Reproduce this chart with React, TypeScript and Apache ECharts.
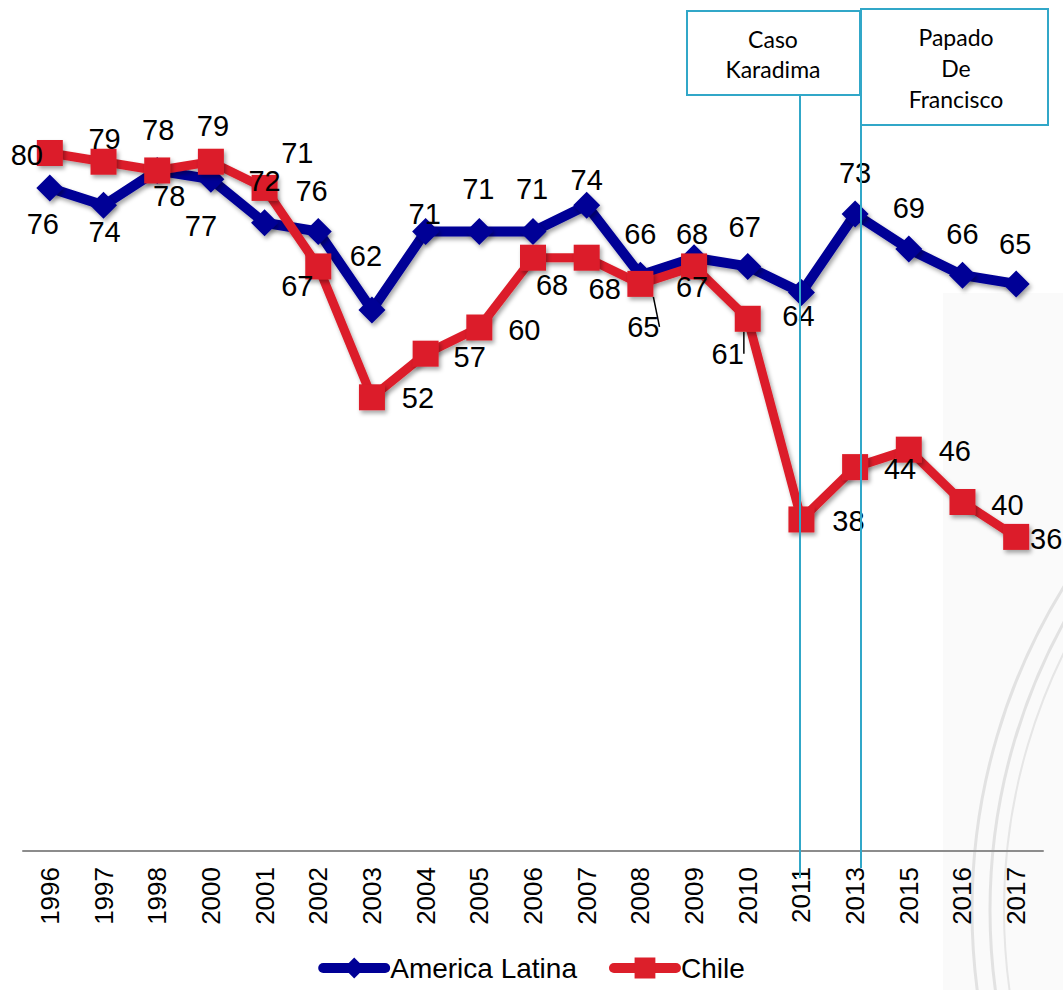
import React, { useEffect, useRef } from "react";
import * as echarts from "echarts";

const years = ["1996","1997","1998","2000","2001","2002","2003","2004","2005","2006","2007","2008","2009","2010","2011","2013","2015","2016","2017"];
const americaLatina = [76, 74, 78, 77, 72, 71, 62, 71, 71, 71, 74, 66, 68, 67, 64, 73, 69, 66, 65];
const chile = [80, 79, 78, 79, 76, 67, 52, 57, 60, 68, 68, 65, 67, 61, 38, 44, 46, 40, 36];

// label offsets (styling only)
const alOffsets: number[][] = [
  [-7, 36], [1, 27], [12, 26], [-10, 47], [0, -42], [-21, -79], [-6, -54], [-1, -18], [-1, -43], [-1, -43],
  [0, -25], [0, -41], [-2, -24], [-3, -39], [-3, 23], [0, -41], [0, -41], [0, -41], [-1, -40],
];
const chOffsets: number[][] = [
  [-23, 2], [1, -23], [1, -40], [2, -36], [47, 3], [-21, 20], [46, 1], [44, 3], [45, 2], [19, 27],
  [18, 31], [3, 43], [-2, 21], [-20, 35], [47, 2], [45, 2], [46, 1], [45, 3], [30, 2],
];

const BLUE = "#000096";
const RED = "#DC1F2A";
const CYAN = "#31A7C8";
const FONT = "'Liberation Sans', Arial, sans-serif";
const BOXFONT = "Lato, 'Noto Sans', sans-serif";

export default function App() {
  const ref = useRef<HTMLDivElement>(null);
  useEffect(() => {
    if (!ref.current) return;
    const chart = echarts.init(ref.current, null, { renderer: "svg" });
    const shadow = {
      shadowBlur: 4,
      shadowColor: "rgba(0,0,0,0.35)",
      shadowOffsetX: 2,
      shadowOffsetY: 3,
    };
    const labelStyle = { show: true, position: "inside", fontSize: 29, color: "#000", fontFamily: FONT };
    chart.setOption({
      animation: false,
      backgroundColor: "#ffffff",
      grid: { left: 23, right: 20, top: 153, bottom: 139 },
      xAxis: {
        type: "category",
        data: years,
        boundaryGap: true,
        axisLine: { lineStyle: { color: "#8c8c8c", width: 2 } },
        axisTick: { show: false },
        axisLabel: { rotate: 90, fontSize: 26, color: "#000", margin: 16, fontFamily: FONT, interval: 0 },
        splitLine: { show: false },
      },
      yAxis: { type: "value", min: 0, max: 80, show: false, splitLine: { show: false } },
      legend: {
        data: ["America Latina", "Chile"],
        top: 954,
        left: "center",
        itemWidth: 62,
        itemHeight: 26,
        itemGap: 32,
        padding: 0,
        lineStyle: { width: 10, cap: "round" },
        textStyle: { fontSize: 28, lineHeight: 28, color: "#000", fontFamily: FONT },
      },
      series: [
        {
          name: "America Latina",
          type: "line",
          data: americaLatina,
          symbol: "diamond",
          symbolSize: 27,
          lineStyle: { color: BLUE, width: 10, cap: "round", ...shadow },
          itemStyle: { color: BLUE, ...shadow },
          label: { show: false },
          z: 2,
        },
        {
          name: "Chile",
          type: "line",
          data: chile.map((v, i) => {
            const item: any = { value: v, label: { offset: chOffsets[i] } };
            if (i === 11 || i === 13) {
              item.labelLine = { show: true, lineStyle: { color: "#000", width: 1.5 } };
            }
            return item;
          }),
          symbol: "rect",
          symbolSize: 26,
          lineStyle: { color: RED, width: 9, cap: "round", ...shadow },
          itemStyle: { color: RED, ...shadow },
          label: labelStyle,
          z: 3,
        },
        {
          name: "America Latina labels",
          type: "line",
          data: americaLatina.map((v, i) => ({ value: v, label: { offset: alOffsets[i] } })),
          symbol: "circle",
          symbolSize: 2,
          lineStyle: { width: 0, opacity: 0 },
          itemStyle: { color: "rgba(0,0,0,0)", borderWidth: 0 },
          label: labelStyle,
          silent: true,
          z: 4,
        },
      ],
      graphic: [
        { type: "rect", z: -1, silent: true, shape: { x: 943, y: 293, width: 120, height: 697 }, style: { fill: "#FAFAFA" } },
        { type: "circle", z: -1, silent: true, shape: { cx: 1587, cy: 910, r: 615 }, style: { fill: "none", stroke: "#E2E2E2", lineWidth: 3 } },
        { type: "circle", z: -1, silent: true, shape: { cx: 1587, cy: 910, r: 597 }, style: { fill: "none", stroke: "#E2E2E2", lineWidth: 3 } },
        { type: "circle", z: -1, silent: true, shape: { cx: 1587, cy: 910, r: 583 }, style: { fill: "none", stroke: "#E6E6E6", lineWidth: 2 } },
        { type: "line", z: 10, shape: { x1: 800, y1: 95, x2: 800, y2: 878 }, style: { stroke: CYAN, lineWidth: 2 } },
        { type: "line", z: 10, shape: { x1: 861, y1: 125, x2: 861, y2: 868 }, style: { stroke: CYAN, lineWidth: 2 } },
        { type: "rect", z: 10, shape: { x: 687, y: 11, width: 173, height: 84 }, style: { fill: "#fff", stroke: CYAN, lineWidth: 2 } },
        { type: "rect", z: 11, shape: { x: 861, y: 9, width: 187, height: 116 }, style: { fill: "#fff", stroke: CYAN, lineWidth: 2 } },
        {
          type: "text", z: 12, x: 773, y: 54,
          style: { text: "Caso\nKaradima", fill: "#000", font: `23px ${BOXFONT}`, align: "center", verticalAlign: "middle", lineHeight: 30 },
        },
        {
          type: "text", z: 12, x: 956, y: 68,
          style: { text: "Papado\nDe\nFrancisco", fill: "#000", font: `23px ${BOXFONT}`, align: "center", verticalAlign: "middle", lineHeight: 31 },
        },
      ],
    });
    return () => chart.dispose();
  }, []);
  return <div ref={ref} style={{ position: "absolute", left: 0, top: 0, width: 1063, height: 990 }} />;
}
